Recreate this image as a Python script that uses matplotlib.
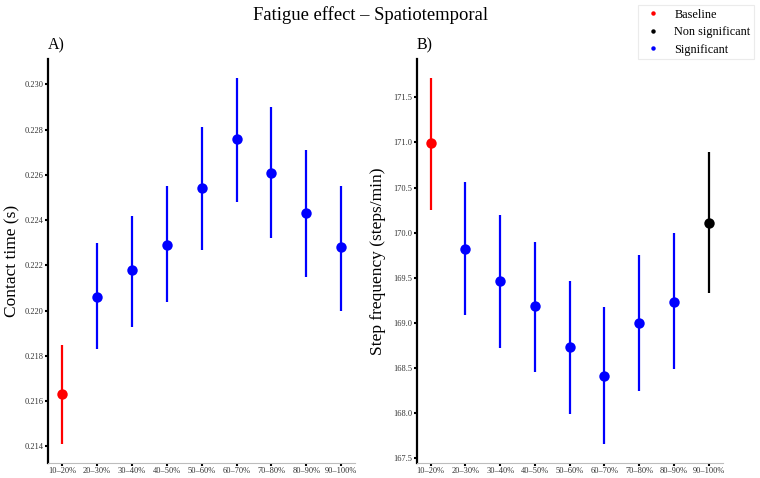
import matplotlib
matplotlib.use("Agg")
import matplotlib.pyplot as plt
from matplotlib.lines import Line2D
import numpy as np

plt.rcParams['font.family'] = ['Liberation Serif', 'DejaVu Serif']

categories = ['10–20%', '20–30%', '30–40%', '40–50%', '50–60%',
              '60–70%', '70–80%', '80–90%', '90–100%']

# Panel A: contact time (s)
ct_mean = [0.2163, 0.2206, 0.2218, 0.2229, 0.2254, 0.2276, 0.2261, 0.2243, 0.2228]
ct_low = [0.2141, 0.2183, 0.2193, 0.2204, 0.2227, 0.2248, 0.2232, 0.2215, 0.2200]
ct_up = [0.2185, 0.2230, 0.2242, 0.2255, 0.2281, 0.2303, 0.2290, 0.2271, 0.2255]
ct_status = ['Baseline'] + ['Significant'] * 8
ct_ticks = [0.214, 0.216, 0.218, 0.220, 0.222, 0.224, 0.226, 0.228, 0.230]

# Panel B: step frequency (steps/min)
sf_mean = [170.99, 169.82, 169.46, 169.18, 168.73, 168.41, 169.00, 169.23, 170.11]
sf_low = [170.25, 169.08, 168.72, 168.45, 167.99, 167.65, 168.24, 168.48, 169.33]
sf_up = [171.72, 170.56, 170.19, 169.90, 169.46, 169.17, 169.75, 169.99, 170.89]
sf_status = ['Baseline'] + ['Significant'] * 7 + ['Non significant']
sf_ticks = [167.5, 168.0, 168.5, 169.0, 169.5, 170.0, 170.5, 171.0, 171.5]

status_order = ['Baseline', 'Non significant', 'Significant']
status_colors = {'Baseline': '#FF0000', 'Non significant': '#000000',
                 'Significant': '#0000FF'}

W, H = 760, 478
fig = plt.figure(figsize=(W / 100, H / 100), dpi=100)
fig.patch.set_facecolor('white')

def px_axes(x0, y_top, x1, y_bot):
    return fig.add_axes([x0 / W, 1 - y_bot / H, (x1 - x0) / W, (y_bot - y_top) / H])

ax1 = px_axes(48.3, 59.3, 355.0, 462.5)
ax2 = px_axes(416.7, 59.3, 722.7, 462.5)

def draw(ax, mean, low, up, status, ticks, fmt, ylabel, letter):
    x = np.arange(len(categories))
    mean = np.asarray(mean)
    low = np.asarray(low)
    up = np.asarray(up)
    for s in status_order:
        idx = [i for i, st in enumerate(status) if st == s]
        if not idx:
            continue
        c = status_colors[s]
        ax.vlines(x[idx], low[idx], up[idx], colors=c, linewidth=1.6, zorder=2)
        ax.plot(x[idx], mean[idx], 'o', color=c, markersize=7.5,
                markeredgewidth=0, zorder=3)
    ax.set_xlim(-0.4, len(categories) - 1 + 0.4)
    ax.margins(y=0.05)
    ax.set_xticks(x)
    ax.set_xticklabels(categories)
    ax.set_yticks(ticks)
    ax.set_yticklabels([fmt % t for t in ticks])
    for side in ['top', 'right']:
        ax.spines[side].set_visible(False)
    ax.spines['left'].set_color('black')
    ax.spines['left'].set_linewidth(1.6)
    ax.spines['bottom'].set_color('#BDBDBD')
    ax.spines['bottom'].set_linewidth(0.8)
    ax.tick_params(axis='both', length=2.2, width=1.5, color='black',
                   labelsize=6, labelcolor='#333333', pad=1.2)
    ax.set_ylabel(ylabel, fontsize=12.5)
    ax.yaxis.label.set_verticalalignment('center')
    ax.text(0.0, 1.0 + 14.3 / 403.2, letter, transform=ax.transAxes,
            ha='left', va='center', fontsize=11.5)

draw(ax1, ct_mean, ct_low, ct_up, ct_status, ct_ticks, '%.3f',
     'Contact time (s)', 'A)')
draw(ax2, sf_mean, sf_low, sf_up, sf_status, sf_ticks, '%.1f',
     'Step frequency (steps/min)', 'B)')
ax1.yaxis.set_label_coords((12 - 48.3) / 306.7, 0.5)
ax2.yaxis.set_label_coords((378 - 416.7) / 306.0, 0.5)

fig.suptitle('Fatigue effect – Spatiotemporal', x=370.5 / W, y=1 - 15 / H,
             va='center', fontsize=13.4)

handles = [Line2D([], [], marker='o', linestyle='none', markersize=3.2,
                  markeredgewidth=0, color=status_colors[s], label=s)
           for s in status_order]
leg = fig.legend(handles=handles, loc='upper right',
                 bbox_to_anchor=(754 / W, 1 - 5 / H), fontsize=8.8,
                 frameon=True, fancybox=False, borderaxespad=0,
                 handlelength=1.9, handletextpad=0.8, labelspacing=0.45,
                 borderpad=0.3)
leg.get_frame().set_edgecolor('#E6E6E6')
leg.get_frame().set_linewidth(0.8)

fig.savefig('out.png', dpi=100, facecolor='white')
